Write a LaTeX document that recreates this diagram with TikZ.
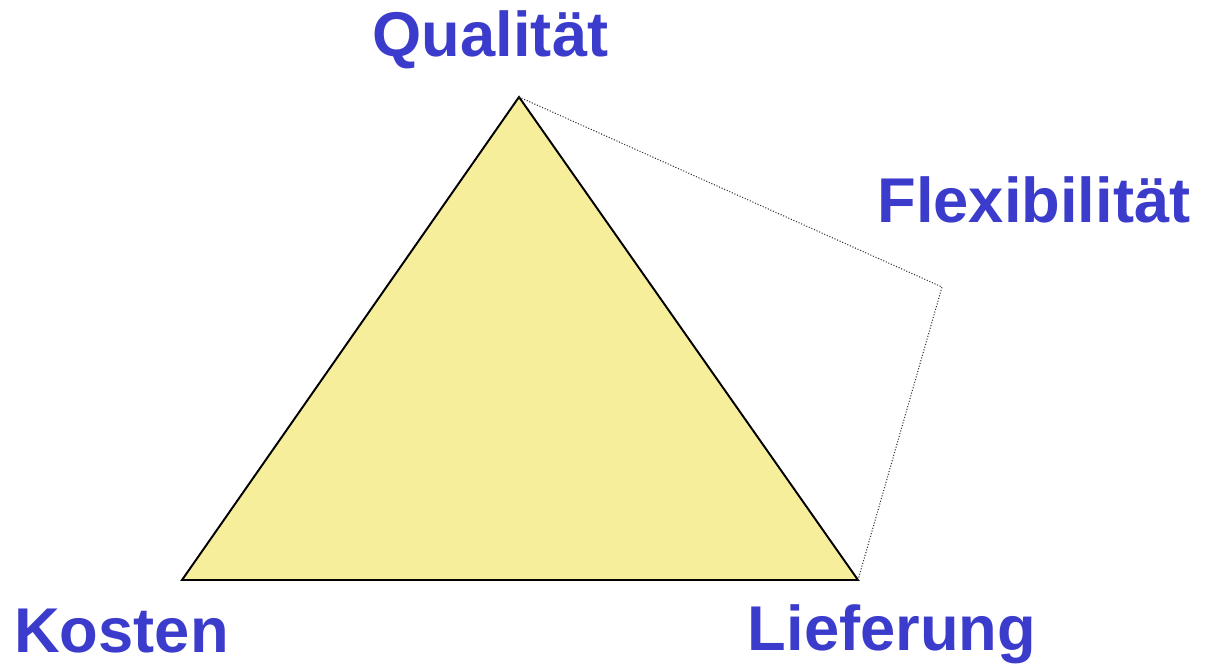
\documentclass[tikz,border=0pt]{standalone}
\usepackage{fontspec}
\setmainfont{Liberation Sans}
\usepackage{tikz}
\usetikzlibrary{positioning}
\definecolor{lblblue}{RGB}{60,60,204}
\definecolor{triyellow}{RGB}{246,238,154}

\begin{document}
\begin{tikzpicture}[
    tri/.style={draw=black, fill=triyellow, line width=1.1pt, line join=miter},
    aux/.style={draw=black!80, densely dotted, line width=0.6pt},
    lbl/.style={font=\bfseries\fontsize{36}{40}\selectfont, text=lblblue, anchor=base, inner sep=0pt}
]
\useasboundingbox (0,0) rectangle (24.32,-13.38);
\coordinate (qual) at (10.38,-1.94);
\coordinate (kost) at (3.64,-11.6);
\coordinate (lief) at (17.16,-11.6);
\coordinate (flex) at (18.84,-5.74);

\draw[tri] (qual) -- (kost) -- (lief) -- cycle;
\draw[aux] (qual) -- (flex) -- (lief);

\node[lbl] (qualtxt) at (9.81,-1.12) {Qualität};
\node[lbl] (flextxt) at (20.68,-4.44) {Flexibilität};
\node[lbl] (kosttxt) at (2.43,-13.04) {Kosten};
\node[lbl] (lieftxt) at (17.84,-13.0) {Lieferung};
\end{tikzpicture}
\end{document}
